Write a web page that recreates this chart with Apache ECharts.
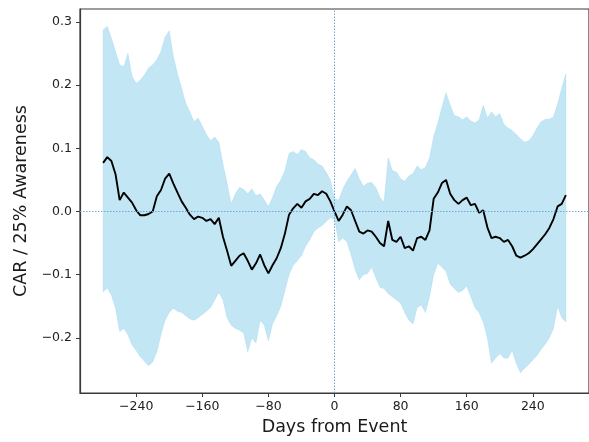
<!DOCTYPE html>
<html>
<head>
<meta charset="utf-8">
<script src="https://cdn.jsdelivr.net/npm/echarts@6/dist/echarts.min.js"></script>
<style>
  html, body { margin: 0; padding: 0; background: #fff; }
  #chart { width: 589px; height: 442px; }
</style>
</head>
<body>
<div id="chart"></div>
<script>
// Cumulative abnormal return per 25% awareness, sampled every 5 days around the event
const meanCar = [
  0.077, 0.086, 0.080, 0.059, 0.018, 0.030, 0.022, 0.014, 0.002, -0.006,
  -0.006, -0.004, 0.000, 0.024, 0.034, 0.052, 0.060, 0.044, 0.030, 0.016,
  0.006, -0.005, -0.012, -0.008, -0.010, -0.015, -0.012, -0.020, -0.010, -0.040,
  -0.062, -0.086, -0.078, -0.070, -0.066, -0.078, -0.092, -0.082, -0.068, -0.085,
  -0.098, -0.085, -0.074, -0.058, -0.035, -0.005, 0.005, 0.012, 0.006, 0.016,
  0.020, 0.028, 0.026, 0.032, 0.028, 0.016, 0.000, -0.015, -0.005, 0.008,
  0.002, -0.015, -0.032, -0.035, -0.030, -0.032, -0.040, -0.050, -0.055, -0.015,
  -0.045, -0.048, -0.040, -0.058, -0.055, -0.062, -0.042, -0.040, -0.045, -0.030,
  0.020, 0.030, 0.045, 0.050, 0.028, 0.018, 0.012, 0.018, 0.022, 0.010,
  0.012, -0.002, 0.002, -0.025, -0.042, -0.040, -0.042, -0.048, -0.045, -0.055,
  -0.070, -0.073, -0.070, -0.066, -0.060, -0.052, -0.044, -0.036, -0.026, -0.012,
  0.008, 0.012, 0.026
];
// Upper confidence bound
const upperBound = [
  0.287, 0.293, 0.274, 0.253, 0.232, 0.229, 0.250, 0.214, 0.203, 0.208,
  0.216, 0.227, 0.232, 0.240, 0.253, 0.276, 0.286, 0.245, 0.218, 0.195,
  0.171, 0.158, 0.142, 0.148, 0.135, 0.122, 0.112, 0.118, 0.110, 0.075,
  0.045, 0.012, 0.028, 0.038, 0.035, 0.028, 0.036, 0.025, 0.028, 0.018,
  0.008, 0.022, 0.040, 0.050, 0.065, 0.092, 0.095, 0.090, 0.098, 0.095,
  0.085, 0.082, 0.075, 0.072, 0.062, 0.050, 0.020, 0.018, 0.035, 0.048,
  0.058, 0.068, 0.052, 0.040, 0.045, 0.046, 0.038, 0.022, 0.015, 0.085,
  0.065, 0.062, 0.052, 0.048, 0.056, 0.060, 0.072, 0.066, 0.070, 0.085,
  0.118, 0.140, 0.165, 0.188, 0.168, 0.152, 0.150, 0.145, 0.150, 0.143,
  0.140, 0.145, 0.168, 0.148, 0.158, 0.150, 0.155, 0.138, 0.132, 0.128,
  0.122, 0.115, 0.110, 0.112, 0.120, 0.132, 0.142, 0.146, 0.146, 0.150,
  0.170, 0.195, 0.218
];
// Lower confidence bound
const lowerBound = [
  -0.127, -0.121, -0.132, -0.153, -0.190, -0.185, -0.195, -0.211, -0.220, -0.230,
  -0.237, -0.244, -0.238, -0.222, -0.195, -0.172, -0.160, -0.153, -0.158, -0.160,
  -0.165, -0.170, -0.172, -0.168, -0.163, -0.158, -0.152, -0.140, -0.128, -0.140,
  -0.168, -0.180, -0.185, -0.188, -0.192, -0.222, -0.200, -0.208, -0.172, -0.180,
  -0.205, -0.178, -0.165, -0.150, -0.125, -0.100, -0.085, -0.078, -0.070, -0.055,
  -0.045, -0.032, -0.026, -0.022, -0.016, -0.010, -0.012, -0.048, -0.042, -0.048,
  -0.068, -0.092, -0.108, -0.100, -0.098, -0.088, -0.105, -0.120, -0.122, -0.130,
  -0.135, -0.140, -0.145, -0.160, -0.172, -0.178, -0.152, -0.148, -0.160, -0.135,
  -0.100, -0.082, -0.088, -0.095, -0.115, -0.122, -0.128, -0.125, -0.118, -0.135,
  -0.152, -0.160, -0.175, -0.200, -0.240, -0.232, -0.225, -0.232, -0.232, -0.220,
  -0.240, -0.255, -0.248, -0.242, -0.235, -0.228, -0.218, -0.210, -0.200, -0.185,
  -0.150, -0.168, -0.175
];
// Day offsets: every 5 days from -280 to 280
const days = [];
for (let d = -280; d <= 280; d += 5) days.push(d);

const xTicks = [-240, -160, -80, 0, 80, 160, 240];
const yTicks = [-0.2, -0.1, 0.0, 0.1, 0.2, 0.3];

const MINUS = '\u2212';
const fmtY = v => (v < -1e-9 ? MINUS : '') + Math.abs(v).toFixed(1);
const fmtX = v => (v < 0 ? MINUS : '') + Math.abs(Math.round(v));

const FONT = 'DejaVu Sans';
const SPINE = '#3a3a3a';

// Confidence band as one polygon: upper bound left to right, lower bound back
function renderBand(params, api) {
  const pts = [];
  for (let i = 0; i < days.length; i++) pts.push(api.coord([days[i], upperBound[i]]));
  for (let i = days.length - 1; i >= 0; i--) pts.push(api.coord([days[i], lowerBound[i]]));
  return {
    type: 'polygon',
    shape: { points: pts },
    style: { fill: 'rgba(135,206,235,0.5)', stroke: 'rgba(135,206,235,0.35)', lineWidth: 0.8 }
  };
}

const chart = echarts.init(document.getElementById('chart'), null, { renderer: 'canvas' });

chart.setOption({
  animation: false,
  backgroundColor: '#ffffff',
  grid: {
    left: 80, top: 9, width: 518, height: 384,
    show: true, borderColor: SPINE, borderWidth: 1.2, backgroundColor: 'transparent'
  },
  xAxis: {
    type: 'value', min: -308, max: 308,
    name: 'Days from Event', nameLocation: 'middle', nameGap: 25,
    nameTextStyle: { fontFamily: FONT, fontSize: 17.5, color: '#1a1a1a' },
    axisLine: { show: true, onZero: false, lineStyle: { color: SPINE, width: 1.2 } },
    axisTick: { show: true, length: 4, customValues: xTicks, lineStyle: { color: SPINE } },
    axisLabel: {
      customValues: xTicks, formatter: fmtX, margin: 7,
      fontFamily: FONT, fontSize: 12.5, color: '#222'
    },
    splitLine: { show: false }
  },
  yAxis: {
    type: 'value', min: -0.2872, max: 0.3204,
    name: 'CAR / 25% Awareness', nameLocation: 'middle', nameGap: 48, nameRotate: 90,
    nameTextStyle: { fontFamily: FONT, fontSize: 17.5, color: '#1a1a1a' },
    axisLine: { show: true, onZero: false, lineStyle: { color: SPINE, width: 1.2 } },
    axisTick: { show: true, length: 4, customValues: yTicks, lineStyle: { color: SPINE } },
    axisLabel: {
      customValues: yTicks, formatter: fmtY, margin: 8,
      fontFamily: FONT, fontSize: 12.5, color: '#222'
    },
    splitLine: { show: false }
  },
  series: [
    {
      type: 'custom',
      renderItem: renderBand,
      data: [[days[0], 0]],
      silent: true, clip: true, z: 1
    },
    {
      // event-day and zero reference lines
      type: 'line', data: [], silent: true, z: 3,
      markLine: {
        silent: true, symbol: 'none', animation: false,
        label: { show: false },
        lineStyle: { color: '#6fa8d8', width: 1, type: [1.5, 1.5] },
        data: [{ yAxis: 0 }, { xAxis: 0 }]
      }
    },
    {
      type: 'line',
      data: days.map((d, i) => [d, meanCar[i]]),
      symbol: 'none', silent: true,
      lineStyle: { color: '#000000', width: 1.9 },
      z: 4
    }
  ]
});
</script>
</body>
</html>
